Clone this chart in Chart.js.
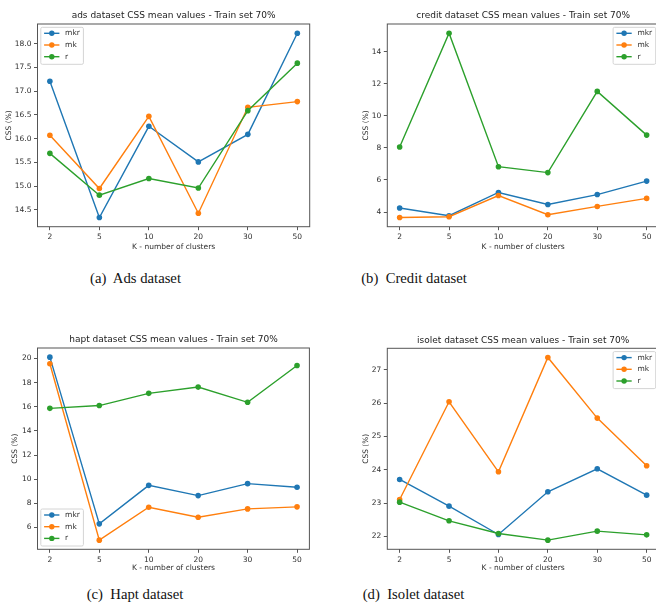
<!DOCTYPE html>
<html>
<head>
<meta charset="utf-8">
<script src="https://cdn.jsdelivr.net/npm/chart.js@4.4.0/dist/chart.umd.min.js"></script>
<style>
  html, body { margin: 0; padding: 0; background: #fff; overflow: hidden; width: 656px; height: 612px; }
  canvas.panel { position: absolute; }
  .cap {
    position: absolute;
    font-family: "Liberation Serif", "Times New Roman", serif;
    font-size: 14.7px;
    line-height: 15px;
    color: #111;
    white-space: pre;
    transform: translate(-50%, -50%);
  }
</style>
</head>
<body>
<canvas id="chartAds" class="panel"></canvas>
<canvas id="chartCredit" class="panel"></canvas>
<canvas id="chartHapt" class="panel"></canvas>
<canvas id="chartIsolet" class="panel"></canvas>

<div class="cap" style="left:135.5px; top:278px;">(a)  Ads dataset</div>
<div class="cap" style="left:414px; top:278px;">(b)  Credit dataset</div>
<div class="cap" style="left:135px; top:593.5px;">(c)  Hapt dataset</div>
<div class="cap" style="left:413.5px; top:593.5px;">(d)  Isolet dataset</div>

<script>
// K values on the x axis
const clusters = ['2', '5', '10', '20', '30', '50'];
const seriesNames = ['mkr', 'mk', 'r'];

// ads dataset, CSS mean values (%)
const adsMkr = [17.21, 14.34, 16.26, 15.51, 16.09, 18.22];
const adsMk  = [16.07, 14.95, 16.47, 14.43, 16.66, 16.78];
const adsR   = [15.69, 14.81, 15.16, 14.96, 16.59, 17.59];
const adsTicks = [14.5, 15.0, 15.5, 16.0, 16.5, 17.0, 17.5, 18.0];

// credit dataset
const creditMkr = [4.25, 3.77, 5.22, 4.47, 5.09, 5.93];
const creditMk  = [3.66, 3.71, 5.03, 3.83, 4.35, 4.85];
const creditR   = [8.06, 15.16, 6.83, 6.46, 11.53, 8.80];
const creditTicks = [4, 6, 8, 10, 12, 14];

// hapt dataset
const haptMkr = [20.11, 6.30, 9.49, 8.64, 9.63, 9.33];
const haptMk  = [19.56, 4.95, 7.68, 6.85, 7.54, 7.71];
const haptR   = [15.87, 16.10, 17.11, 17.63, 16.37, 19.42];
const haptTicks = [6, 8, 10, 12, 14, 16, 18, 20];

// isolet dataset
const isoletMkr = [23.71, 22.91, 22.06, 23.34, 24.03, 23.24];
const isoletMk  = [23.11, 26.04, 23.94, 27.37, 25.55, 24.12];
const isoletR   = [23.03, 22.47, 22.09, 21.89, 22.16, 22.05];
const isoletTicks = [22, 23, 24, 25, 26, 27];

const palette = ['#1f77b4', '#ff7f0e', '#2ca02c'];
const FONT = 'DejaVu Sans';
const TEXT = '#2e2e2e';
const FS = 7.5;

// Axes frame drawn on all four sides of the plot area
const framePlugin = {
  id: 'frame',
  afterDatasetsDraw(chart) {
    const { ctx, chartArea: a } = chart;
    ctx.save();
    ctx.strokeStyle = '#555';
    ctx.lineWidth = 1;
    ctx.strokeRect(a.left, a.top, a.right - a.left, a.bottom - a.top);
    ctx.restore();
  }
};

// Title centred above the plot area
const headPlugin = {
  id: 'head',
  afterDraw(chart) {
    const o = chart.options.plugins.head;
    const { ctx, chartArea: a } = chart;
    ctx.save();
    ctx.font = `${o.size}px "${FONT}"`;
    ctx.fillStyle = '#222';
    ctx.textAlign = 'center';
    ctx.textBaseline = 'middle';
    ctx.fillText(o.text, (a.left + a.right) / 2, a.top - o.gap);
    ctx.restore();
  }
};

// Legend box with a line + marker sample per series
const keyPlugin = {
  id: 'key',
  afterDraw(chart) {
    const o = chart.options.plugins.key;
    const { ctx, chartArea: a } = chart;
    const w = 42.6, h = 37, inset = 3.3;
    const x = o.corner.endsWith('r') ? a.right - inset - w : a.left + inset;
    const y = o.corner.startsWith('l') ? a.bottom - inset - h : a.top + inset;
    ctx.save();
    ctx.beginPath();
    if (ctx.roundRect) ctx.roundRect(x, y, w, h, 1.5); else ctx.rect(x, y, w, h);
    ctx.fillStyle = 'rgba(255,255,255,0.8)';
    ctx.fill();
    ctx.strokeStyle = '#d4d4d4';
    ctx.lineWidth = 1;
    ctx.stroke();
    chart.data.datasets.forEach((ds, i) => {
      const cy = y + 6 + i * 11.7;
      ctx.strokeStyle = ds.borderColor;
      ctx.lineWidth = 1.4;
      ctx.beginPath();
      ctx.moveTo(x + 3.3, cy);
      ctx.lineTo(x + 18.6, cy);
      ctx.stroke();
      ctx.fillStyle = ds.borderColor;
      ctx.beginPath();
      ctx.arc(x + 11, cy, 2.7, 0, Math.PI * 2);
      ctx.fill();
      ctx.fillStyle = TEXT;
      ctx.font = `${FS}px "${FONT}"`;
      ctx.textAlign = 'left';
      ctx.textBaseline = 'middle';
      ctx.fillText(ds.label, x + 24.3, cy);
    });
    ctx.restore();
  }
};

function buildChart(spec) {
  const [cx, cy, cw, ch] = spec.box;
  const [L, T, R, B] = spec.area;
  const cv = document.getElementById(spec.id);
  cv.width = cw; cv.height = ch;
  cv.style.left = cx + 'px'; cv.style.top = cy + 'px';
  cv.style.width = cw + 'px'; cv.style.height = ch + 'px';

  const all = spec.series.flat();
  const lo = Math.min(...all), hi = Math.max(...all);
  const m = (hi - lo) * 0.05;
  const lh = FS * 1.2;

  const datasets = spec.series.map((vals, i) => ({
    label: seriesNames[i],
    data: vals.map((v, k) => ({ x: k, y: v })),
    borderColor: palette[i],
    backgroundColor: palette[i],
    pointBackgroundColor: palette[i],
    pointBorderWidth: 0,
    pointRadius: 2.8,
    borderWidth: 1.4,
    tension: 0,
    order: seriesNames.length - 1 - i
  }));

  const tickFont = { family: FONT, size: FS, lineHeight: 1.2 };

  return new Chart(cv, {
    type: 'line',
    data: { datasets },
    options: {
      responsive: false,
      animation: false,
      events: [],
      layout: { padding: { left: 0, top: T - cy, right: cx + cw - R, bottom: 0 } },
      scales: {
        x: {
          type: 'linear',
          min: -0.25,
          max: clusters.length - 1 + 0.25,
          afterBuildTicks: ax => { ax.ticks = clusters.map((c, k) => ({ value: k })); },
          afterFit: ax => { ax.height = cy + ch - B; },
          ticks: {
            callback: v => clusters[v],
            font: tickFont, color: TEXT, padding: 2.5,
            maxRotation: 0, autoSkip: false
          },
          grid: { drawOnChartArea: false, drawTicks: true, tickLength: 3.5, tickColor: '#444', tickWidth: 0.9 },
          border: { display: false },
          title: {
            display: true, text: 'K - number of clusters',
            font: tickFont, color: TEXT,
            padding: { top: 0, bottom: cy + ch - spec.xTitleY - lh / 2 }
          }
        },
        y: {
          type: 'linear',
          min: lo - m,
          max: hi + m,
          afterBuildTicks: ax => { ax.ticks = spec.ticks.map(v => ({ value: v })); },
          afterFit: ax => { ax.width = L - cx; },
          ticks: {
            callback: v => v.toFixed(spec.decimals),
            font: tickFont, color: TEXT, padding: 2.5
          },
          grid: { drawOnChartArea: false, drawTicks: true, tickLength: 3.5, tickColor: '#444', tickWidth: 0.9 },
          border: { display: false },
          title: {
            display: true, text: 'CSS (%)',
            font: tickFont, color: TEXT,
            padding: { top: spec.yTitleX - cx - lh / 2, bottom: 0 }
          }
        }
      },
      plugins: {
        legend: { display: false },
        tooltip: { enabled: false },
        head: { text: spec.title, size: 9, gap: 8 },
        key: { corner: spec.legendCorner }
      }
    },
    plugins: [framePlugin, keyPlugin, headPlugin]
  });
}

buildChart({
  id: 'chartAds', box: [0, 0, 330, 262], area: [37.5, 24, 309.7, 226.7],
  series: [adsMkr, adsMk, adsR], ticks: adsTicks, decimals: 1,
  title: 'ads dataset CSS mean values - Train set 70%',
  xTitleY: 246.7, yTitleX: 9, legendCorner: 'ul'
});
buildChart({
  id: 'chartCredit', box: [330, 0, 335, 262], area: [387.3, 24, 659, 226.7],
  series: [creditMkr, creditMk, creditR], ticks: creditTicks, decimals: 0,
  title: 'credit dataset CSS mean values - Train set 70%',
  xTitleY: 246.7, yTitleX: 365.7, legendCorner: 'ur'
});
buildChart({
  id: 'chartHapt', box: [0, 300, 330, 275], area: [37.5, 348, 309.4, 549.3],
  series: [haptMkr, haptMk, haptR], ticks: haptTicks, decimals: 0,
  title: 'hapt dataset CSS mean values - Train set 70%',
  xTitleY: 568.3, yTitleX: 15, legendCorner: 'll'
});
buildChart({
  id: 'chartIsolet', box: [330, 300, 335, 275], area: [387.3, 348.3, 659, 549.3],
  series: [isoletMkr, isoletMk, isoletR], ticks: isoletTicks, decimals: 0,
  title: 'isolet dataset CSS mean values - Train set 70%',
  xTitleY: 568.3, yTitleX: 365.7, legendCorner: 'ur'
});
</script>
</body>
</html>
